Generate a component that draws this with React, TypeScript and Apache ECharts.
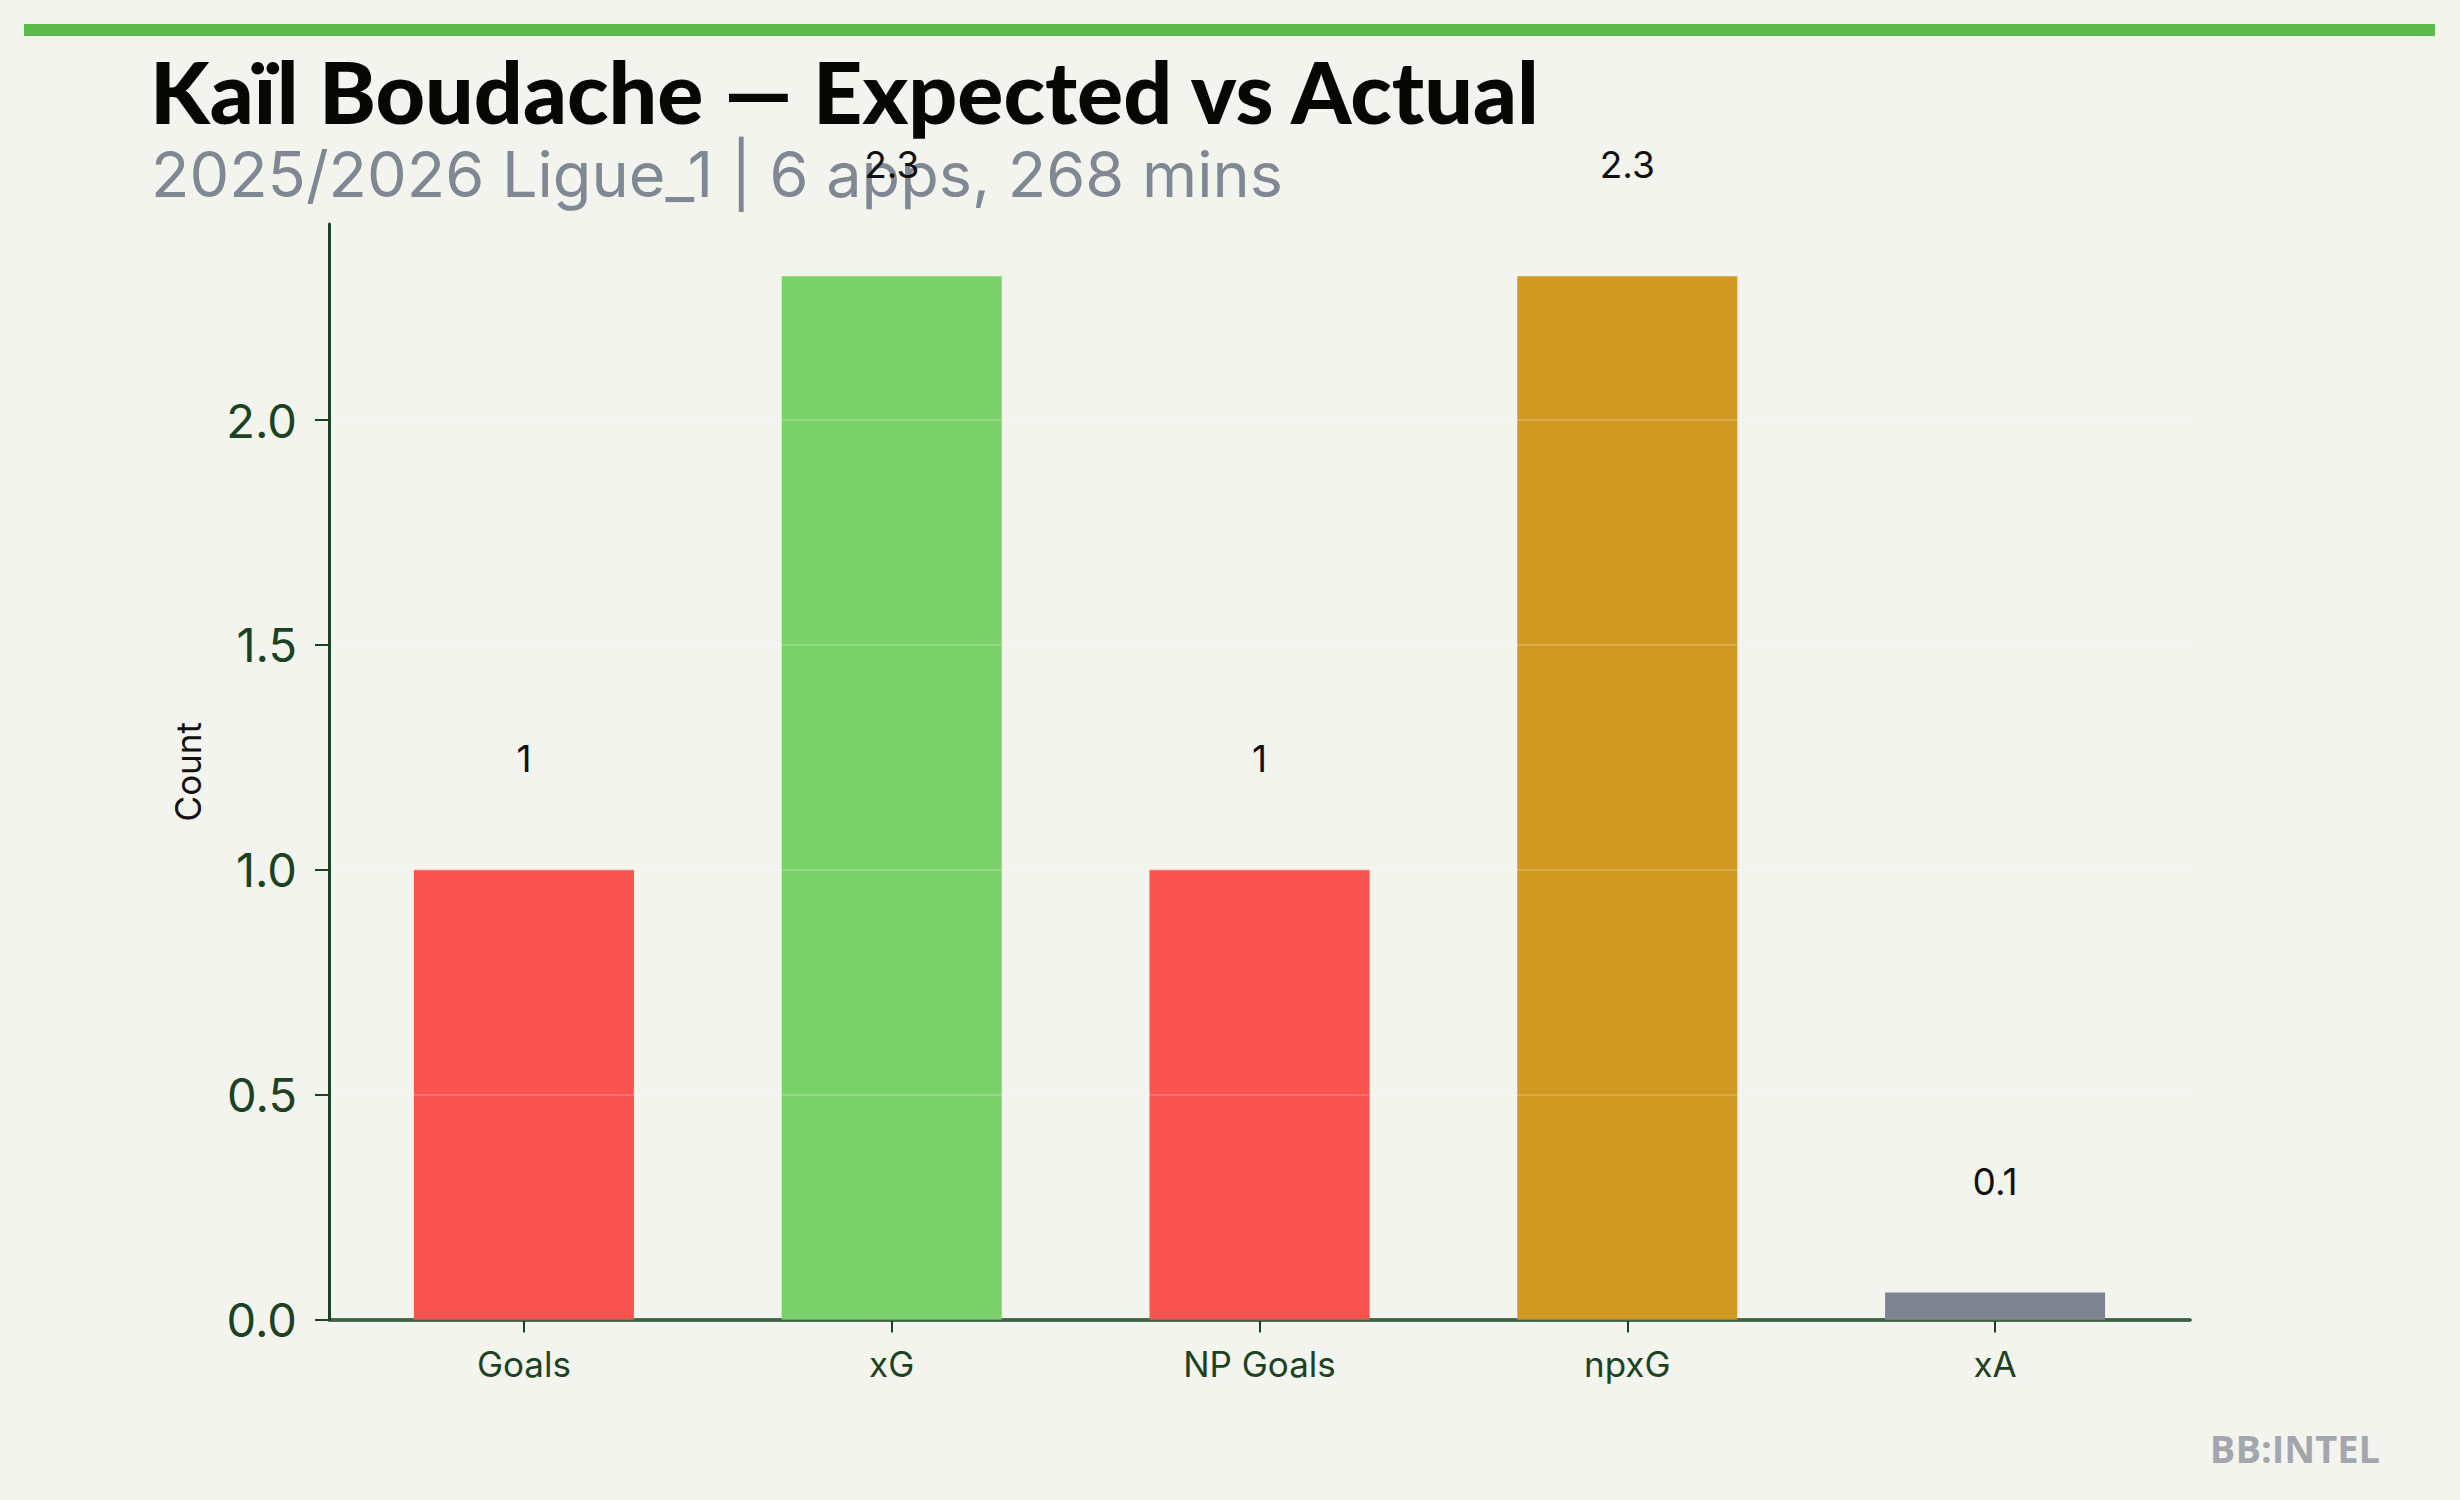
import React, { useEffect, useRef } from "react";
import * as echarts from "echarts";

const categories = ["Goals", "xG", "NP Goals", "npxG", "xA"];
const values = [1, 2.32, 1, 2.32, 0.06];
const barColors = ["#f9534f", "#7bd169", "#f9534f", "#d29922", "#7f8590"];
const yTicks = [0, 0.5, 1.0, 1.5, 2.0];
const xTicks = [0, 1, 2, 3, 4];
const titleText = "Kaïl Boudache — Expected vs Actual";
const subtitleText = "2025/2026 Ligue_1 | 6 apps, 268 mins";
const yAxisName = "Count";
const watermark = "BB:INTEL";

const AXIS = "#1b4222";
const BG = "#f3f4ee";

export default function App() {
  const ref = useRef<HTMLDivElement>(null);
  useEffect(() => {
    if (!ref.current) return;
    const chart = echarts.init(ref.current, undefined, { renderer: "svg" });
    const fmt = (v: number) => (Number.isInteger(v) ? String(v) : v.toFixed(1));
    chart.setOption({
      animation: false,
      backgroundColor: BG,
      grid: { left: 329, right: 270, top: 224, bottom: 180.5 },
      xAxis: {
        type: "value",
        min: -0.53,
        max: 4.53,
        axisLine: { show: true, onZero: false, lineStyle: { color: AXIS, width: 3.5 } },
        axisTick: { show: true, customValues: xTicks, length: 13, lineStyle: { color: AXIS, width: 2 } },
        axisLabel: {
          customValues: xTicks,
          formatter: (v: number) => categories[Math.round(v)] ?? "",
          color: AXIS,
          fontFamily: "Inter",
          fontSize: 35,
          margin: 27,
        },
        splitLine: { show: false },
      },
      yAxis: {
        type: "value",
        min: 0,
        max: 2.436,
        z: 3,
        name: yAxisName,
        nameLocation: "middle",
        nameGap: 124,
        nameTextStyle: { color: "#111", fontFamily: "Inter", fontSize: 35 },
        axisLine: { show: true, onZero: false, lineStyle: { color: AXIS, width: 3 } },
        axisTick: { show: true, customValues: yTicks, length: 14, lineStyle: { color: AXIS, width: 2 } },
        axisLabel: {
          customValues: yTicks,
          formatter: (v: number) => v.toFixed(1),
          color: AXIS,
          fontFamily: "Inter",
          fontSize: 47,
          margin: 32,
        },
        splitLine: { show: true, lineStyle: { color: "rgba(255,255,255,0.18)", width: 2 } },
      },
      series: [
        {
          type: "bar",
          barWidth: 220,
          data: values.map((v, i) => ({
            value: [xTicks[i], v],
            itemStyle: { color: barColors[i] },
          })),
          label: {
            show: true,
            position: "top",
            distance: 93,
            color: "#111",
            fontFamily: "Inter",
            fontSize: 37,
            formatter: (p: any) => fmt(p.value[1]),
          },
        },
      ],
      graphic: [
        { type: "rect", shape: { x: 24, y: 24, width: 2411, height: 12 }, style: { fill: "#5cb94c" }, z: 10 },
        {
          type: "text",
          x: 150,
          y: 90,
          z: 10,
          style: {
            text: titleText,
            fill: "#060806",
            font: "900 86px Lato",
            verticalAlign: "middle",
            align: "left",
          },
        },
        {
          type: "text",
          x: 151,
          y: 174,
          z: 1,
          style: {
            text: subtitleText,
            fill: "#808894",
            font: "400 63px Inter",
            verticalAlign: "middle",
            align: "left",
          },
        },
        {
          type: "text",
          x: 2380,
          y: 1448,
          z: 10,
          style: {
            text: watermark,
            fill: "#a3a7ad",
            font: "700 38px 'Open Sans'",
            verticalAlign: "middle",
            align: "right",
          },
        },
      ],
    });
    return () => chart.dispose();
  }, []);
  return (
    <div
      ref={ref}
      style={{ position: "fixed", left: 0, top: 0, width: 2460, height: 1500 }}
    />
  );
}
